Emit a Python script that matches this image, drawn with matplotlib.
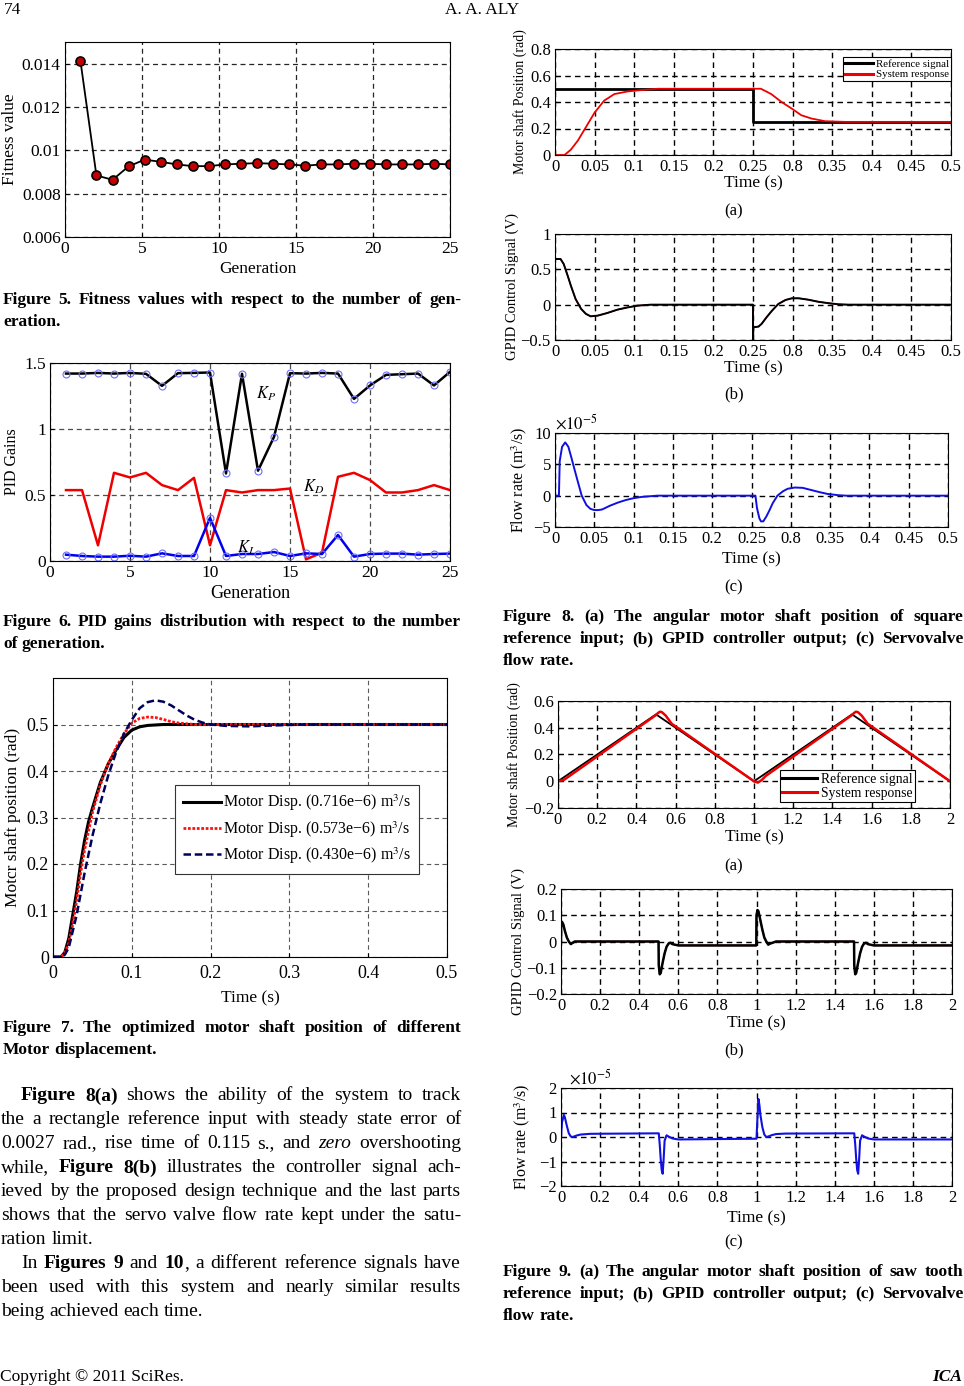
import re
import numpy as np
import matplotlib
matplotlib.use('Agg')
import matplotlib.pyplot as plt
from matplotlib.ticker import FuncFormatter

W, H = 964, 1386
plt.rcParams['font.family'] = ['Liberation Serif', 'DejaVu Serif']
plt.rcParams['mathtext.fontset'] = 'stix'

# ---------------- data ----------------
# Figure 5: fitness vs generation
fit_gen = [1, 2.04, 3.09, 4.13, 5.17, 6.22, 7.26, 8.3, 9.35, 10.39, 11.43, 12.48,
           13.52, 14.57, 15.61, 16.65, 17.7, 18.74, 19.78, 20.83, 21.87, 22.91, 23.96, 25]
fitness = [0.01414, 0.00884, 0.00864, 0.00926, 0.00957, 0.00947, 0.00935, 0.00927,
           0.00927, 0.00935, 0.00938, 0.00941, 0.00938, 0.00935, 0.00929, 0.00935,
           0.00935, 0.00938, 0.00938, 0.00935, 0.00935, 0.00935, 0.00938, 0.00935]

# Figure 6: PID gains vs generation
gain_gen = list(range(1, 26))
kp = [1.42, 1.42, 1.425, 1.42, 1.425, 1.418, 1.327, 1.423, 1.425, 1.428, 0.663, 1.418,
      0.684, 0.94, 1.423, 1.42, 1.425, 1.42, 1.228, 1.33, 1.41, 1.415, 1.42, 1.33, 1.433]
kd = [0.537, 0.537, 0.119, 0.668, 0.633, 0.668, 0.575, 0.537, 0.63, 0.119, 0.537, 0.519,
      0.537, 0.537, 0.549, 0.013, 0.063, 0.638, 0.668, 0.613, 0.519, 0.519, 0.537, 0.575, 0.537]
ki = [0.048, 0.038, 0.033, 0.033, 0.04, 0.033, 0.058, 0.038, 0.038, 0.327, 0.038, 0.053,
      0.053, 0.068, 0.038, 0.058, 0.053, 0.197, 0.033, 0.053, 0.056, 0.056, 0.048, 0.053, 0.056]

# Figure 7: step responses (time, position)
disp_716 = [(0, 0), (0.01, 0), (0.015, 0.01), (0.02, 0.04), (0.025, 0.09), (0.03, 0.14),
            (0.035, 0.2), (0.04, 0.25), (0.045, 0.29), (0.05, 0.32), (0.06, 0.375),
            (0.07, 0.415), (0.08, 0.445), (0.09, 0.472), (0.1, 0.488), (0.11, 0.495),
            (0.12, 0.498), (0.14, 0.5), (0.5, 0.5)]
disp_573 = [(0, 0), (0.01, 0), (0.015, 0.008), (0.02, 0.03), (0.025, 0.07), (0.03, 0.12),
            (0.035, 0.18), (0.04, 0.23), (0.05, 0.31), (0.06, 0.37), (0.07, 0.415),
            (0.08, 0.45), (0.09, 0.48), (0.1, 0.503), (0.11, 0.513), (0.12, 0.516),
            (0.13, 0.515), (0.14, 0.511), (0.15, 0.506), (0.16, 0.503), (0.18, 0.5), (0.5, 0.5)]
disp_430 = [(0, 0), (0.012, 0), (0.015, 0.005), (0.02, 0.02), (0.03, 0.09), (0.04, 0.18),
            (0.05, 0.26), (0.06, 0.33), (0.07, 0.39), (0.08, 0.44), (0.09, 0.48),
            (0.1, 0.51), (0.11, 0.535), (0.12, 0.548), (0.13, 0.552), (0.14, 0.549),
            (0.15, 0.541), (0.16, 0.53), (0.17, 0.519), (0.18, 0.51), (0.19, 0.504),
            (0.2, 0.5), (0.22, 0.497), (0.25, 0.496), (0.28, 0.498), (0.32, 0.5), (0.5, 0.5)]
disp_labels = ['Motor Disp. (0.716e\u22126) m$^3$/s',
               'Motor Disp. (0.573e\u22126) m$^3$/s',
               'Motor Disp. (0.430e\u22126) m$^3$/s']

# Figure 8: square reference
sq_ref = [(0, 0.5), (0.25, 0.5), (0.25, 0.25), (0.5, 0.25)]
sq_resp = [(0, 0), (0.012, 0), (0.02, 0.04), (0.029, 0.11), (0.039, 0.21), (0.05, 0.32),
           (0.062, 0.41), (0.075, 0.46), (0.092, 0.48), (0.109, 0.49), (0.13, 0.5),
           (0.26, 0.5), (0.273, 0.46), (0.286, 0.4), (0.299, 0.35), (0.311, 0.3),
           (0.324, 0.275), (0.341, 0.255), (0.366, 0.25), (0.5, 0.25)]
sq_ctrl = [(0, 0.646), (0.007, 0.646), (0.011, 0.575), (0.016, 0.41), (0.02, 0.27),
           (0.026, 0.08), (0.033, -0.06), (0.039, -0.13), (0.045, -0.165), (0.054, -0.155),
           (0.066, -0.118), (0.079, -0.07), (0.092, -0.038), (0.104, -0.014), (0.121, 0),
           (0.25, 0), (0.25, -0.5), (0.2505, -0.32), (0.257, -0.31), (0.261, -0.27),
           (0.267, -0.18), (0.274, -0.085), (0.282, 0.01), (0.291, 0.066), (0.299, 0.09),
           (0.308, 0.09), (0.32, 0.07), (0.333, 0.04), (0.346, 0.02), (0.358, 0.005),
           (0.37, 0), (0.5, 0)]
sq_flow = [(0, 0), (0.005, 0), (0.006, 5.5), (0.009, 7.8), (0.013, 8.5), (0.017, 7.8),
           (0.021, 6.0), (0.025, 4.1), (0.03, 1.8), (0.034, 0), (0.04, -1.5), (0.045, -2.1),
           (0.05, -2.3), (0.055, -2.3), (0.06, -2.2), (0.07, -1.6), (0.08, -1.1), (0.09, -0.7),
           (0.1, -0.4), (0.11, -0.2), (0.12, -0.1), (0.13, 0), (0.255, 0), (0.257, -2.0),
           (0.26, -3.6), (0.262, -4.1), (0.265, -4.1), (0.269, -3.3), (0.273, -2.3),
           (0.277, -1.2), (0.283, 0), (0.29, 0.7), (0.296, 1.1), (0.305, 1.3), (0.315, 1.25),
           (0.326, 0.9), (0.337, 0.55), (0.347, 0.27), (0.36, 0.08), (0.37, 0), (0.5, 0)]
fig8_xticks = [0, 0.05, 0.1, 0.15, 0.2, 0.25, 0.3, 0.35, 0.4, 0.45, 0.5]
fig8_xticklabels = ['0', '0.05', '0.1', '0.15', '0.2', '0.25', '0.8', '0.35', '0.4', '0.45', '0.5']

# Figure 9: saw tooth reference
saw_ref = [(0, 0), (0.5, 0.5), (1.0, 0), (1.5, 0.5), (2.0, 0)]
saw_resp = [(0, 0), (0.03, 0.01), (0.5, 0.495), (0.51, 0.51), (0.52, 0.52), (0.53, 0.517),
            (0.55, 0.49), (0.58, 0.43), (0.6, 0.41), (0.99, 0.01), (1.0, 0.0), (1.02, -0.01),
            (1.04, 0.01), (1.06, 0.04), (1.5, 0.495), (1.51, 0.51), (1.52, 0.52),
            (1.53, 0.517), (1.55, 0.49), (1.58, 0.43), (1.6, 0.41), (2.0, 0.0)]
saw_ctrl = [(0, 0), (0.001, 0.07), (0.005, 0.075), (0.012, 0.065), (0.02, 0.04), (0.03, 0.015),
            (0.04, 0), (0.05, -0.01), (0.06, -0.005), (0.07, 0), (0.499, 0), (0.5, -0.09),
            (0.505, -0.125), (0.51, -0.12), (0.52, -0.08), (0.53, -0.045), (0.54, -0.02),
            (0.55, -0.008), (0.56, -0.005), (0.57, -0.01), (0.6, -0.015), (0.999, -0.015),
            (1.0, 0.1), (1.005, 0.12), (1.01, 0.115), (1.02, 0.08), (1.03, 0.045),
            (1.04, 0.015), (1.05, 0), (1.06, -0.012), (1.07, -0.008), (1.1, 0), (1.499, 0),
            (1.5, -0.09), (1.505, -0.125), (1.51, -0.12), (1.52, -0.08), (1.53, -0.045),
            (1.54, -0.02), (1.55, -0.008), (1.56, -0.005), (1.57, -0.01), (1.6, -0.015),
            (2.0, -0.015)]
saw_flow = [(0, 0), (0.005, 0.6), (0.015, 0.9), (0.02, 0.8), (0.03, 0.45), (0.04, 0.15),
            (0.05, 0.02), (0.06, 0.0), (0.08, 0.06), (0.1, 0.1), (0.15, 0.13), (0.5, 0.15),
            (0.505, -0.3), (0.51, -0.9), (0.515, -1.35), (0.52, -1.5), (0.525, -0.9),
            (0.53, -0.15), (0.54, 0.07), (0.55, 0.02), (0.57, -0.06), (0.6, -0.1),
            (1.0, -0.07), (1.005, 0.8), (1.01, 1.55), (1.015, 1.3), (1.02, 0.9), (1.03, 0.4),
            (1.04, 0.1), (1.05, 0.0), (1.06, 0.02), (1.08, 0.08), (1.1, 0.12), (1.15, 0.14),
            (1.5, 0.15), (1.505, -0.3), (1.51, -0.9), (1.515, -1.35), (1.52, -1.5),
            (1.525, -0.9), (1.53, -0.15), (1.54, 0.07), (1.55, 0.02), (1.57, -0.06),
            (1.6, -0.1), (2.0, -0.1)]
fig9_xticks = [0, 0.2, 0.4, 0.6, 0.8, 1.0, 1.2, 1.4, 1.6, 1.8, 2.0]

ref_labels = ['Reference signal', 'System response']

# ---------------- page ----------------
fig = plt.figure(figsize=(W / 100, H / 100), dpi=100)
fmt = FuncFormatter(lambda v, p: ('%g' % round(v, 6)).replace('-', '\u2212'))


def add_axes(l, t, r, b):
    return fig.add_axes([l / W, 1 - b / H, (r - l) / W, (b - t) / H])


def style(ax, size, gcol='k', glw=1.0):
    ax.grid(True, ls=(0, (4, 3)), color=gcol, lw=glw)
    ax.set_axisbelow(True)
    ax.tick_params(direction='in', length=3, labelsize=size, pad=3)
    ax.xaxis.set_major_formatter(fmt)
    ax.yaxis.set_major_formatter(fmt)
    for s in ax.spines.values():
        s.set_linewidth(0.8)


def xy(pairs):
    a = np.array(pairs, dtype=float)
    return a[:, 0], a[:, 1]


# Figure 5
ax = add_axes(65, 42, 450, 237)
ax.plot(fit_gen, fitness, '-o', color='k', lw=1.3, ms=6.5, mfc='#c40000', mec='k', mew=1.2)
ax.set_xlim(0, 25)
ax.set_ylim(0.006, 0.015)
ax.set_xticks([0, 5, 10, 15, 20, 25])
ax.set_yticks([0.006, 0.008, 0.01, 0.012, 0.014])
style(ax, 12.5, '0.15', 0.9)
ax.set_xlabel('Generation', fontsize=12.5, labelpad=3)
ax.set_ylabel('Fitness value', fontsize=12.5, labelpad=3)

# Figure 6
ax = add_axes(50, 363, 450, 561)
circ = dict(marker='o', ms=5, mfc='none', mec='#6e6eff', mew=0.8)
ax.plot(gain_gen, kp, color='k', lw=1.8, **circ)
ax.plot(gain_gen, kd, color='#ee0000', lw=1.8)
ax.plot(gain_gen, ki, color='#0000ee', lw=1.8, **circ)
ax.text(12.9, 1.27, '$K_P$', fontsize=12, va='center')
ax.text(15.8, 0.56, '$K_D$', fontsize=12, va='center')
ax.text(11.7, 0.1, '$K_I$', fontsize=12, va='center')
ax.set_xlim(0, 25)
ax.set_ylim(0, 1.5)
ax.set_xticks([0, 5, 10, 15, 20, 25])
ax.set_yticks([0, 0.5, 1, 1.5])
style(ax, 12.5, '0.3', 0.9)
ax.set_xlabel('Generation', fontsize=13, labelpad=3)
ax.set_ylabel('PID Gains', fontsize=11.5, labelpad=3)

# Figure 7
ax = add_axes(53, 678, 447, 957)
ax.plot(*xy(disp_716), color='k', lw=2.2, label=disp_labels[0])
ax.plot(*xy(disp_573), color='#ff1010', lw=2.0, ls=(0, (1, 0.6)), label=disp_labels[1])
ax.plot(*xy(disp_430), color='#00005a', lw=1.8, ls=(0, (3, 1.5)), label=disp_labels[2])
ax.set_xlim(0, 0.5)
ax.set_ylim(0, 0.6)
ax.set_xticks([0, 0.1, 0.2, 0.3, 0.4, 0.5])
ax.set_yticks([0, 0.1, 0.2, 0.3, 0.4, 0.5])
style(ax, 13, '0.35', 0.8)
ax.tick_params(axis='x', pad=6)
ax.set_xlabel('Time (s)', fontsize=12.5, labelpad=6)
ax.set_ylabel('Motcr shaft position (rad)', fontsize=12.5, labelpad=4)
leg = ax.legend(loc='upper left', bbox_to_anchor=(0.31, 0.617), fontsize=11.5,
                handlelength=2.4, handletextpad=0.1, labelspacing=0.35, borderpad=0.5,
                fancybox=False, framealpha=1, edgecolor='0.2', borderaxespad=0)
leg.get_frame().set_linewidth(0.8)

# Figure 8
ax = add_axes(555, 49, 951, 155)
ax.plot(*xy(sq_ref), color='k', lw=2.0, label=ref_labels[0])
ax.plot(*xy(sq_resp), color='#ee0000', lw=1.3, label=ref_labels[1])
ax.set_xlim(0, 0.5)
ax.set_ylim(0, 0.8)
ax.set_yticks([0, 0.2, 0.4, 0.6, 0.8])
style(ax, 12)
ax.set_xticks(fig8_xticks)
ax.set_xticklabels(fig8_xticklabels)
ax.set_xlabel('Time (s)', fontsize=12.5, labelpad=0)
ax.set_ylabel('Motor shaft Position (rad)', fontsize=10, labelpad=2)
leg = ax.legend(loc='upper right', bbox_to_anchor=(1.0, 0.92), fontsize=7.8,
                handlelength=2.6, handletextpad=0.3, labelspacing=0.1, borderpad=0.15,
                fancybox=False, framealpha=1, edgecolor='k', borderaxespad=0)
leg.get_frame().set_linewidth(0.8)
for ln in leg.get_lines():
    ln.set_linewidth(2.2)

ax = add_axes(555, 234, 951, 340)
ax.plot(*xy(sq_ctrl), color='#cc0000', lw=1.0)
ax.plot(*xy(sq_ctrl), color='k', lw=1.4)
ax.set_xlim(0, 0.5)
ax.set_ylim(-0.5, 1)
ax.set_yticks([-0.5, 0, 0.5, 1])
style(ax, 12)
ax.set_xticks(fig8_xticks)
ax.set_xticklabels(fig8_xticklabels)
ax.set_xlabel('Time (s)', fontsize=12.5, labelpad=0)
ax.set_ylabel('GPID Control Signal (V)', fontsize=10.5, labelpad=1)

ax = add_axes(555, 433, 948, 527)
ax.plot(*xy(sq_flow), color='#1010e0', lw=1.4)
ax.set_xlim(0, 0.5)
ax.set_ylim(-5, 10)
ax.set_yticks([-5, 0, 5, 10])
style(ax, 12)
ax.set_xticks(fig8_xticks)
ax.set_xticklabels(fig8_xticklabels)
ax.text(0.0, 1.0, r'$\times10^{-5}$', transform=ax.transAxes, fontsize=12,
        ha='left', va='bottom')
ax.set_xlabel('Time (s)', fontsize=12.5, labelpad=3)
ax.set_ylabel('Flow rate (m$^3$/s)', fontsize=11.5, labelpad=3)

# Figure 9
ax = add_axes(558, 701, 950, 808)
ax.plot(*xy(saw_ref), color='k', lw=1.3, label=ref_labels[0])
ax.plot(*xy(saw_resp), color='#ee0000', lw=1.8, label=ref_labels[1])
ax.set_xlim(0, 2)
ax.set_ylim(-0.2, 0.6)
ax.set_yticks([-0.2, 0, 0.2, 0.4, 0.6])
ax.set_xticks(fig9_xticks)
style(ax, 12)
ax.set_xlabel('Time (s)', fontsize=12.5, labelpad=1)
ax.set_ylabel('Motor shaft Position (rad)', fontsize=10, labelpad=2)
leg = ax.legend(loc='upper left', bbox_to_anchor=(0.566, 0.355), fontsize=9.8,
                handlelength=2.6, handletextpad=0.3, labelspacing=0.05, borderpad=0.15,
                fancybox=False, framealpha=1, edgecolor='k', borderaxespad=0)
leg.get_frame().set_linewidth(0.8)
for ln in leg.get_lines():
    ln.set_linewidth(2.2)

ax = add_axes(561, 889, 952, 994)
ax.plot(*xy(saw_ctrl), color='#aa0000', lw=1.0)
ax.plot(*xy(saw_ctrl), color='k', lw=1.8)
ax.set_xlim(0, 2)
ax.set_ylim(-0.2, 0.2)
ax.set_yticks([-0.2, -0.1, 0, 0.1, 0.2])
ax.set_xticks(fig9_xticks)
style(ax, 12)
ax.set_xlabel('Time (s)', fontsize=12.5, labelpad=1)
ax.set_ylabel('GPID Control Signal (V)', fontsize=10.5, labelpad=1)

ax = add_axes(561, 1088, 952, 1186)
ax.plot(*xy(saw_flow), color='#1010e0', lw=1.5)
ax.set_xlim(0, 2)
ax.set_ylim(-2, 2)
ax.set_yticks([-2, -1, 0, 1, 2])
ax.set_xticks(fig9_xticks)
style(ax, 12)
ax.text(0.02, 1.0, r'$\times10^{-5}$', transform=ax.transAxes, fontsize=12,
        ha='left', va='bottom')
ax.set_xlabel('Time (s)', fontsize=12.5, labelpad=3)
ax.set_ylabel('Flow rate (m$^3$/s)', fontsize=11.5, labelpad=5)


# ---------------- text ----------------
def words_of(line):
    words, bold, ital = [[]], False, False
    for part in re.split(r'(\*\*|~)', line):
        if part == '**':
            bold = not bold
        elif part == '~':
            ital = not ital
        else:
            for k, s in enumerate(part.split(' ')):
                if k > 0:
                    words.append([])
                if s:
                    words[-1].append((s, bold, ital))
    return [w for w in words if w]


def text_line(x0, x1, y, line, size, bold=False, justify=True):
    r = fig.canvas.get_renderer()
    placed = []
    for word in words_of(line):
        chunks = []
        for s, b, i in word:
            t = fig.text(0, 1 - y / H, s, fontsize=size, va='center', ha='left',
                         fontweight='bold' if (b or bold) else 'normal',
                         fontstyle='italic' if i else 'normal')
            chunks.append((t, t.get_window_extent(r).width))
        placed.append(chunks)
    total = sum(w for c in placed for _, w in c)
    if justify and len(placed) > 1:
        gap = (x1 - x0 - total) / (len(placed) - 1)
    else:
        gap = size * 100 / 72 * 0.25
    x = x0
    for chunks in placed:
        for t, w in chunks:
            t.set_x(x / W)
            x += w
        x += gap


def caption(x0, x1, y, lines, size=12.5):
    for k, line in enumerate(lines):
        text_line(x0, x1, y + 22 * k, line, size, bold=True, justify=k < len(lines) - 1)


fig.text(4 / W, 1 - 10 / H, '74', fontsize=12.5, va='center')
fig.text(482 / W, 1 - 10 / H, 'A. A. ALY', fontsize=12.5, va='center', ha='center')

caption(3, 461, 300, ['Figure 5. Fitness values with respect to the number of gen-', 'eration.'])
caption(3, 461, 622, ['Figure 6. PID gains distribution with respect to the number',
                      'of generation.'])
caption(3, 461, 1028, ['Figure 7. The optimized motor shaft position of different',
                       'Motor displacement.'])

body = [
    (21, '**Figure 8(a)** shows the ability of the system to track', True),
    (1, 'the a rectangle reference input with steady state error of', True),
    (1, '0.0027 rad., rise time of 0.115 s., and ~zero~ overshooting', True),
    (1, 'while, **Figure 8(b)** illustrates the controller signal ach-', True),
    (1, 'ieved by the proposed design technique and the last parts', True),
    (1, 'shows that the servo valve flow rate kept under the satu-', True),
    (1, 'ration limit.', False),
    (21, 'In **Figures 9** and **10**, a different reference signals have', True),
    (1, 'been used with this system and nearly similar results', True),
    (1, 'being achieved each time.', False),
]
for k, (x0, line, just) in enumerate(body):
    text_line(x0, 461, 1096 + 24 * k, line, 14, justify=just)

for lab, y in [('(a)', 211), ('(b)', 394), ('(c)', 587), ('(a)', 866), ('(b)', 1050), ('(c)', 1242)]:
    fig.text(734 / W, 1 - y / H, lab, fontsize=12, ha='center', va='center')

caption(503, 963, 617, ['Figure 8. (a) The angular motor shaft position of square',
                        'reference input; (b) GPID controller output; (c) Servovalve',
                        'flow rate.'])
caption(503, 963, 1272, ['Figure 9. (a) The angular motor shaft position of saw tooth',
                         'reference input; (b) GPID controller output; (c) Servovalve',
                         'flow rate.'])

fig.text(0 / W, 1 - 1377 / H, 'Copyright \u00a9 2011 SciRes.', fontsize=12.5, va='center')
fig.text(962 / W, 1 - 1377 / H, 'ICA', fontsize=12.5, va='center', ha='right',
         fontweight='bold', fontstyle='italic')

fig.savefig('out.png', dpi=100)
